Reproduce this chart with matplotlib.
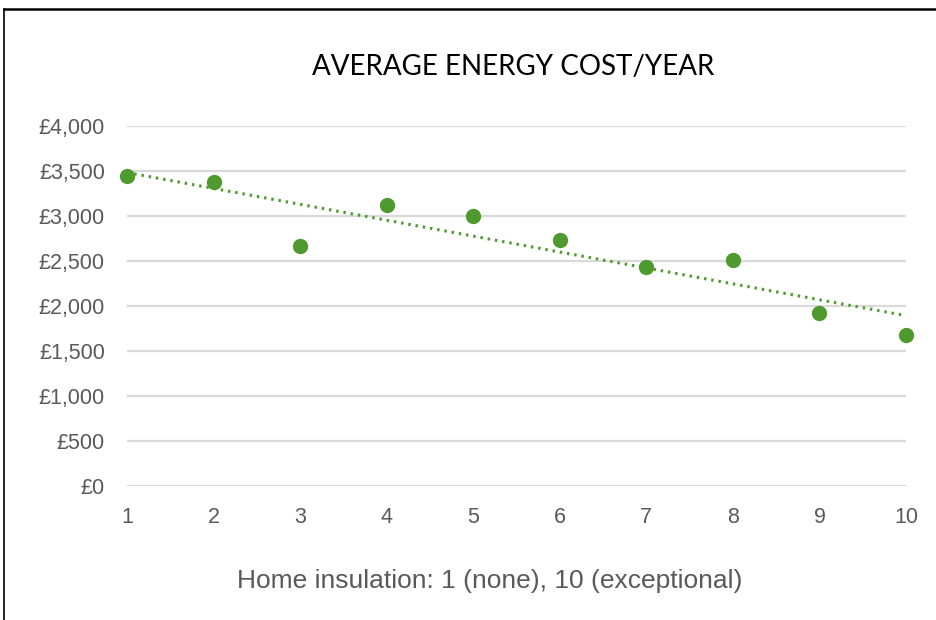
import matplotlib
matplotlib.use("Agg")
import matplotlib.pyplot as plt
from matplotlib.lines import Line2D
from matplotlib.ticker import FuncFormatter, MultipleLocator
import numpy as np

# Insulation rating vs. average yearly energy cost
insulation = [1, 2, 3, 4, 5, 6, 7, 8, 9, 10]
cost = [3440, 3380, 2665, 3120, 3000, 2730, 2435, 2510, 1920, 1680]

title = "AVERAGE ENERGY COST/YEAR"
xlabel = "Home insulation: 1 (none), 10 (exceptional)"

green = "#4e9a2e"
grid_col = "#d9d9d9"
text_col = "#595959"

W, H = 936, 620
fig = plt.figure(figsize=(W / 100, H / 100), dpi=100)
fig.patch.set_facecolor("white")

ax = fig.add_axes([127 / W, (H - 486) / H, (906 - 127) / W, (486 - 126) / H])
ax.set_xlim(1, 10)
ax.set_ylim(0, 4000)

ax.yaxis.set_major_locator(MultipleLocator(500))
ax.xaxis.set_major_locator(MultipleLocator(1))
ax.yaxis.set_major_formatter(FuncFormatter(lambda v, p: f"£{int(v):,}"))
ax.grid(axis="y", color=grid_col, linewidth=1.6)
ax.set_axisbelow(True)
for s in ax.spines.values():
    s.set_visible(False)
ax.tick_params(length=0, labelsize=15.5, labelcolor=text_col)
ax.tick_params(axis="y", pad=16)
ax.tick_params(axis="x", pad=15)
for lab in ax.get_xticklabels() + ax.get_yticklabels():
    lab.set_fontfamily("Liberation Sans")

# Linear trendline
x = np.array(insulation, dtype=float)
y = np.array(cost, dtype=float)
m, b = np.polyfit(x, y, 1)
xt = np.array([1, 10])
ax.plot(xt, m * xt + b, linestyle=(0, (0.8, 1.6)), color=green, linewidth=2.2,
        zorder=2, clip_on=False)

ax.plot(insulation, cost, linestyle="none", marker="o", markersize=10,
        color=green, zorder=3, clip_on=False)

fig.text(513 / W, 1 - 67 / H, title, ha="center", va="center",
         fontsize=20, fontfamily="Lato", color="black")
fig.text(490 / W, 1 - 581 / H, xlabel, ha="center", va="center",
         fontsize=19, fontfamily="Liberation Sans", color=text_col)

# Outer frame
fig.add_artist(Line2D([4 / W, 4 / W], [0, 1 - 9 / H], color="black",
                      linewidth=1.2, transform=fig.transFigure))
fig.add_artist(Line2D([4 / W, 1], [1 - 9 / H, 1 - 9 / H], color="black",
                      linewidth=1.8, transform=fig.transFigure))

fig.savefig("out.png", dpi=100, facecolor="white")
